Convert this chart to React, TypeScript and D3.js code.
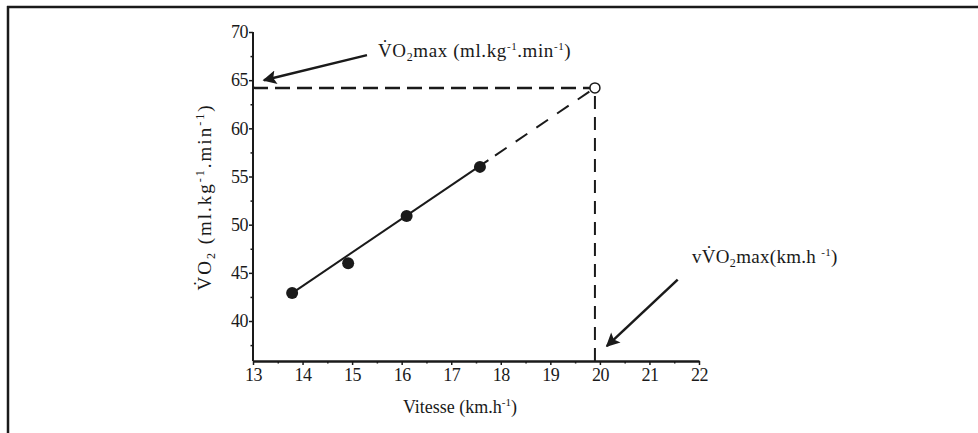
import React, { useEffect, useRef } from 'react';
import * as d3 from 'd3';

// measured points (vitesse km/h, VO2 ml/kg/min)
const speeds = [13.79, 14.92, 16.1, 17.58];
const vo2 = [42.9, 46.0, 50.9, 56.0];

// regression line: solid part then dashed extrapolation up to VO2max
const fitSolid: [number, number][] = [[13.79, 42.9], [17.75, 56.7]];
const fitDashed: [number, number][] = [[17.75, 56.7], [19.9, 64.2]];
const vmaxPoint: [number, number] = [19.9, 64.2];

const xTicks = [13, 14, 15, 16, 17, 18, 19, 20, 21, 22];
const xMinor = [13.5, 14.5, 15.5, 16.5, 17.5, 18.5, 19.5, 20.5, 21.5];
const yTicks = [40, 45, 50, 55, 60, 65, 70];
const yMinor = [37.5, 42.5, 47.5, 52.5, 57.5, 62.5, 67.5];

// annotation arrows [tail, tip] in data units
const arrowVo2: [number, number][] = [[15.3, 67.6], [13.22, 65.0]];
const arrowVmax: [number, number][] = [[21.57, 44.3], [20.14, 37.4]];

const W = 978;
const H = 433;
const ink = '#1a1a1a';
const font = '"Liberation Serif", "DejaVu Serif", serif';

const App: React.FC = () => {
  const svgRef = useRef<SVGSVGElement>(null);

  useEffect(() => {
    if (!svgRef.current) return;
    const svg = d3.select(svgRef.current);
    svg.selectAll('*').remove();

    const x = d3.scaleLinear().domain([13, 22]).range([253, 699]);
    const y = d3.scaleLinear().domain([35.85, 70]).range([361, 32]);

    svg.append('rect').attr('width', W).attr('height', H).attr('fill', '#fff');

    // frame lines (top + left)
    svg.append('line').attr('x1', 7).attr('x2', W).attr('y1', 7).attr('y2', 7)
      .attr('stroke', ink).attr('stroke-width', 2.5);
    svg.append('line').attr('x1', 8).attr('x2', 8).attr('y1', 6).attr('y2', H)
      .attr('stroke', ink).attr('stroke-width', 2.5);

    const defs = svg.append('defs');
    defs.append('marker')
      .attr('id', 'head')
      .attr('viewBox', '0 0 10 10')
      .attr('refX', 9).attr('refY', 5)
      .attr('markerWidth', 8).attr('markerHeight', 5.5)
      .attr('markerUnits', 'strokeWidth')
      .attr('orient', 'auto')
      .append('path').attr('d', 'M0,0 L10,5 L0,10 L2,5 Z').attr('fill', ink);

    // axes
    const gx = svg.append('g').attr('transform', `translate(0,${y(35.85)})`);
    gx.call(d3.axisBottom(x).tickValues(xTicks).tickSize(4).tickSizeOuter(0).tickPadding(3) as any);
    gx.call((g) => g.select('.domain').attr('stroke-width', 2.5));
    const gxm = svg.append('g').attr('transform', `translate(0,${y(35.85)})`);
    gxm.call(d3.axisBottom(x).tickValues(xMinor).tickSize(2.5).tickFormat(() => '') as any);
    gxm.select('.domain').remove();

    const gy = svg.append('g').attr('transform', `translate(${x(13)},0)`);
    gy.call(d3.axisLeft(y).tickValues(yTicks).tickSize(4).tickSizeOuter(0).tickPadding(1) as any);
    gy.select('.domain').attr('d', `M0,${y(70)}V${y(35.85)}`).attr('stroke-width', 2);
    const gym = svg.append('g').attr('transform', `translate(${x(13)},0)`);
    gym.call(d3.axisLeft(y).tickValues(yMinor).tickSize(2.5).tickFormat(() => '') as any);
    gym.select('.domain').remove();

    svg.selectAll('.tick text')
      .attr('font-family', font).attr('font-size', 18).attr('fill', ink)
      .attr('letter-spacing', -0.5);
    svg.selectAll('.tick line').attr('stroke', ink).attr('stroke-width', 1.5);
    svg.selectAll('.domain').attr('stroke', ink);

    const line = d3.line<[number, number]>().x((d) => x(d[0])).y((d) => y(d[1]));

    // VO2max guides
    svg.append('path')
      .datum([[13, vmaxPoint[1]], vmaxPoint] as [number, number][])
      .attr('d', line).attr('fill', 'none').attr('stroke', ink)
      .attr('stroke-width', 2.5).attr('stroke-dasharray', '15,7');
    svg.append('path')
      .datum([[vmaxPoint[0], 35.85], vmaxPoint] as [number, number][])
      .attr('d', line).attr('fill', 'none').attr('stroke', ink)
      .attr('stroke-width', 2).attr('stroke-dasharray', '13,8');

    // regression
    svg.append('path').datum(fitSolid).attr('d', line)
      .attr('fill', 'none').attr('stroke', ink).attr('stroke-width', 2);
    svg.append('path').datum(fitDashed).attr('d', line)
      .attr('fill', 'none').attr('stroke', ink).attr('stroke-width', 2)
      .attr('stroke-dasharray', '14,11').attr('stroke-dashoffset', -8);

    svg.selectAll('circle.pt')
      .data(speeds)
      .join('circle')
      .attr('class', 'pt')
      .attr('cx', (d) => x(d))
      .attr('cy', (_, i) => y(vo2[i]))
      .attr('r', 6)
      .attr('fill', ink);

    svg.append('circle')
      .attr('cx', x(vmaxPoint[0])).attr('cy', y(vmaxPoint[1]))
      .attr('r', 5).attr('fill', '#fff').attr('stroke', ink).attr('stroke-width', 1.5);

    // arrows
    [arrowVo2, arrowVmax].forEach((a) => {
      svg.append('path').datum(a).attr('d', line)
        .attr('fill', 'none').attr('stroke', ink).attr('stroke-width', 2.5)
        .attr('marker-end', 'url(#head)');
    });

    // annotation labels
    const t1 = svg.append('text').attr('x', 378).attr('y', 57)
      .attr('font-family', font).attr('font-size', 19).attr('fill', ink)
      .attr('letter-spacing', 0.6);
    t1.append('tspan').text('V\u0307O');
    t1.append('tspan').attr('font-size', 12).attr('dy', 4).text('2');
    t1.append('tspan').attr('dy', -4).text('max (ml.kg');
    t1.append('tspan').attr('font-size', 11).attr('dy', -7).text('-1');
    t1.append('tspan').attr('dy', 7).text('.min');
    t1.append('tspan').attr('font-size', 11).attr('dy', -7).text('-1');
    t1.append('tspan').attr('dy', 7).text(')');

    const t2 = svg.append('text').attr('x', 692).attr('y', 263)
      .attr('font-family', font).attr('font-size', 19).attr('fill', ink)
      .attr('letter-spacing', 0.3);
    t2.append('tspan').text('vV\u0307O');
    t2.append('tspan').attr('font-size', 12).attr('dy', 4).text('2');
    t2.append('tspan').attr('dy', -4).text('max(km.h ');
    t2.append('tspan').attr('font-size', 11).attr('dy', -7).text('-1');
    t2.append('tspan').attr('dy', 7).text(')');

    // axis titles
    const xt = svg.append('text').attr('x', 460).attr('y', 413).attr('text-anchor', 'middle')
      .attr('font-family', font).attr('font-size', 18).attr('fill', ink);
    xt.append('tspan').text('Vitesse (km.h');
    xt.append('tspan').attr('font-size', 11).attr('dy', -7).text('-1');
    xt.append('tspan').attr('dy', 7).text(')');

    const yt = svg.append('text')
      .attr('transform', 'translate(211,197) rotate(-90)')
      .attr('text-anchor', 'middle')
      .attr('font-family', font).attr('font-size', 19).attr('fill', ink)
      .attr('letter-spacing', 2);
    yt.append('tspan').text('V\u0307O');
    yt.append('tspan').attr('font-size', 12).attr('dy', 4).text('2');
    yt.append('tspan').attr('dy', -4).text(' (ml.kg');
    yt.append('tspan').attr('font-size', 12).attr('dy', -7).text('-1');
    yt.append('tspan').attr('dy', 7).text('.min');
    yt.append('tspan').attr('font-size', 12).attr('dy', -7).text('-1');
    yt.append('tspan').attr('dy', 7).text(')');
  }, []);

  return (
    <svg
      ref={svgRef}
      width={W}
      height={H}
      style={{ position: 'absolute', left: 0, top: 0, display: 'block' }}
    />
  );
};

export default App;
